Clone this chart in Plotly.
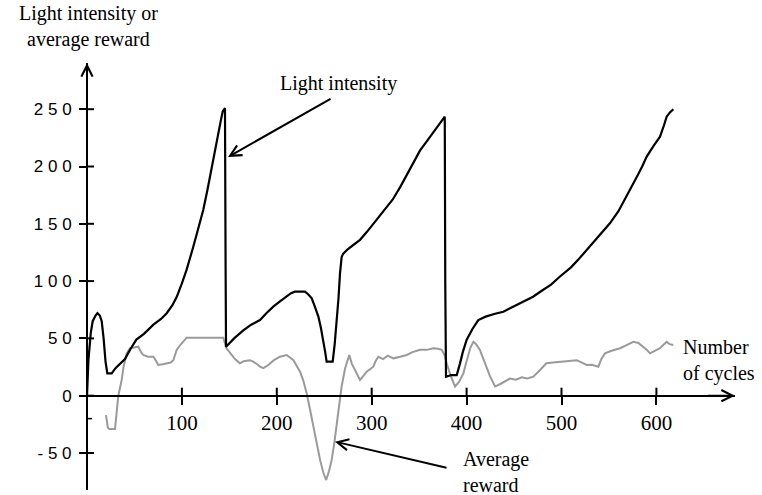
import plotly.graph_objects as go

# ---------------- data ----------------
light_x = [0, 1.5, 4, 6, 9, 11, 13.5, 15.5, 17.5, 19.5, 21.4, 26, 30, 34.8, 40, 46, 52, 60, 70, 78, 84,
           90, 94.5, 100, 105, 112, 117, 122.5, 127, 131.4, 135, 138.4, 141, 143, 145.4, 146, 146.5,
           155, 164.7, 173, 182.3, 189, 196.3, 203, 210.4, 215, 219, 229.7, 233, 236.8, 240, 243.8,
           246.5, 249, 251, 252.5, 258.9, 261, 263, 265, 266.6, 268.3, 270, 275, 280.6, 287.7, 295,
           305, 315, 322, 330, 340, 351, 358, 365, 371, 377, 377.5, 378.3, 384, 389.6, 393, 396, 400,
           406, 412.3, 420, 430, 438.7, 450, 460, 470, 480, 489, 498.4, 510, 518, 526.6, 535, 543,
           551, 560, 566, 572, 580, 585, 589.8, 597, 603.8, 608, 610.8, 614, 617.8]
light_y = [0, 31, 55, 65, 70, 72, 70, 65, 50, 30, 19.5, 19.5, 24, 28, 32, 41, 49, 54, 62, 67, 72,
           79, 86, 98, 110, 130, 146, 162, 180, 200, 215, 229, 240, 248, 251, 120, 42.8,
           50, 57, 62, 66, 72, 77.7, 82, 86.4, 89.5, 90.8, 90.8, 88.5, 85, 78, 69,
           59, 48.6, 38, 29.7, 29.7, 45, 63, 85, 106.8, 121, 124, 128, 131.5, 136, 143,
           153, 163, 171, 182, 197, 214, 222, 230, 237, 243.5, 100, 16.6, 18, 18, 28, 38, 48.6,
           58, 66, 69, 71.5, 73.3, 78, 82, 86.4, 92, 97, 104, 112, 119, 127, 135, 142,
           150.4, 161, 170, 179.5, 192, 200, 208.6, 218, 226, 236, 243.5, 247, 250]

reward_x = [20, 22, 23.5, 29.5, 33, 36.6, 38.5, 41.8, 45.3, 50, 54, 57, 59.3, 64, 70, 73, 75, 80, 84,
            88, 91, 94.5, 98, 101.5, 105, 143.6, 147, 152, 156, 161, 165, 171.7, 175.2, 180, 182.3,
            185.8, 191, 197, 203.4, 210.4, 214, 217.5, 221, 224.5, 228, 231.5, 235, 238.6, 242,
            245.6, 249, 252, 255, 257.8, 260.5, 263, 265.5, 268.3, 272, 276.4, 279, 282.3, 285,
            287.7, 291, 294.7, 301.7, 304, 307, 312, 317, 322.8, 330, 336.9, 343, 351, 358, 365,
            370, 373.8, 377, 379, 383, 387.8, 392, 396.6, 400, 404, 407.2, 410, 414, 418, 421,
            424.6, 430, 435, 440, 445.7, 452, 458, 464, 470.3, 477, 484, 491, 498.4, 507, 516, 521,
            526.6, 532, 538.8, 542, 545.8, 552, 561.7, 568, 575.7, 581, 586.2, 590, 593.2, 598,
            603.8, 607, 610.8, 614, 617.8]
reward_y = [-17, -28, -29, -29, 0, 14, 25, 37, 41.4, 42, 42.8, 38, 35.5, 34, 34, 30, 26.8, 27.5, 28.3,
            29, 31, 40, 44, 47, 50.6, 50.6, 41.4, 36, 32, 28.3, 30, 31, 29.7, 27, 25.3,
            24, 26.8, 31, 34, 35.5, 33, 31, 26, 21, 13, 2, -12, -27, -42,
            -56, -67, -73.6, -66, -56, -42, -27, -10, 8, 24, 35.5, 28, 22.4, 17,
            13.7, 17, 21, 25.3, 30, 34, 32, 35, 32.6, 34, 35.5, 38, 40, 40, 41.4,
            41, 40, 35, 28.3, 18, 8, 12, 19.5, 30, 42, 47, 45, 40, 32, 25,
            17, 8, 10, 12, 15, 14, 16, 15, 16.6, 22, 28.3, 29, 29.7, 30, 31, 29,
            26.8, 27, 25.3, 32, 37, 39, 41.4, 44, 47, 46, 42.8, 40, 37, 39,
            41.4, 44, 47, 45, 44.2]

x_ticks = [100, 200, 300, 400, 500, 600]
x_tick_labels = ["100", "200", "300", "400", "500", "600"]
y_ticks = [-50, 0, 50, 100, 150, 200, 250]
y_tick_labels = ["- 5 0", "0", "5 0", "1 0 0", "1 5 0", "2 0 0", "2 5 0"]

# ---------------- layout geometry ----------------
W, H = 762, 495
X0, XS = 87.0, 0.949      # pixel of x=0, pixels per unit
Y0, YS = 395.7, 1.146     # pixel of y=0, pixels per unit
x_left_px, x_right_px = 80, 735
y_bot_px, y_top_px = 490, 63

x_dom = [x_left_px / W, x_right_px / W]
x_rng = [(x_left_px - X0) / XS, (x_right_px - X0) / XS]
y_dom = [(H - y_bot_px) / H, (H - y_top_px) / H]
y_rng = [(Y0 - y_bot_px) / YS, (Y0 - y_top_px) / YS]
xaxis_pos = (H - Y0) / H
yaxis_pos = X0 / W

serif = "Liberation Serif, Times New Roman, serif"
sans = "Liberation Sans, Arial, sans-serif"

fig = go.Figure()
fig.add_trace(go.Scatter(x=reward_x, y=reward_y, mode="lines",
                         line=dict(color="#9a9a9a", width=2), hoverinfo="skip"))
fig.add_trace(go.Scatter(x=light_x, y=light_y, mode="lines",
                         line=dict(color="black", width=2.2), hoverinfo="skip"))

fig.update_layout(
    width=W, height=H, margin=dict(l=0, r=0, t=0, b=0), showlegend=False,
    plot_bgcolor="white", paper_bgcolor="white",
    xaxis=dict(domain=x_dom, range=x_rng, anchor="free", position=xaxis_pos, showgrid=False,
               zeroline=False, tickvals=x_ticks, ticktext=x_tick_labels, ticks="outside",
               ticklen=8, tickwidth=2, tickcolor="black", showline=True, linecolor="black",
               linewidth=2, fixedrange=True,
               tickfont=dict(family=serif, size=21, color="black")),
    yaxis=dict(domain=y_dom, range=y_rng, anchor="free", position=yaxis_pos, showgrid=False,
               zeroline=False, tickvals=y_ticks, ticktext=y_tick_labels, ticks="outside",
               ticklen=7, tickwidth=2, tickcolor="black", showline=True, linecolor="black",
               linewidth=2, fixedrange=True, ticklabelstandoff=4,
               tickfont=dict(family=sans, size=17, color="black")),
)

# inner halves of the crossing tick marks (placed by the axes' own scales)
for t in x_ticks:
    fig.add_shape(type="line", xref="x", yref="y", x0=t, x1=t, ysizemode="pixel", yanchor=0,
                  y0=0, y1=8, line=dict(color="black", width=2))
for t in y_ticks:
    fig.add_shape(type="line", xref="x", yref="y", y0=t, y1=t, xsizemode="pixel", xanchor=0,
                  x0=0, x1=7, line=dict(color="black", width=2))
# small stray tick on the right of the y axis
fig.add_shape(type="line", xref="x", yref="y", y0=-20, y1=-20, xsizemode="pixel", xanchor=0,
              x0=0, x1=5, line=dict(color="black", width=1.5))

arrow = dict(showarrow=True, arrowhead=5, arrowwidth=2, arrowsize=1.1, arrowcolor="black",
             xref="x", yref="y", axref="x", ayref="y", text="", standoff=0)
# axis arrows
fig.add_annotation(**arrow, x=x_rng[1], y=0, ax=x_rng[1] - 30, ay=0)
fig.add_annotation(**arrow, x=0, y=y_rng[1], ax=0, ay=y_rng[1] - 25)
# pointer arrows
fig.add_annotation(**arrow, x=148.6, y=208.3, ax=258.2, ay=259.8)
fig.add_annotation(**arrow, x=261.3, y=-40.1, ax=380.4, ay=-63.1)

txt = dict(showarrow=False, xref="paper", yref="paper", font=dict(family=serif, size=20, color="black"))
fig.add_annotation(**txt, text="Light intensity or<br>average reward", x=88.5 / W, y=1 - 26.5 / H,
                   xanchor="center", yanchor="middle", align="center")
fig.add_annotation(**txt, text="Light intensity", x=338.5 / W, y=1 - 84 / H, xanchor="center", yanchor="middle")
fig.add_annotation(**txt, text="Average<br>reward", x=461 / W, y=1 - 471.5 / H,
                   xanchor="left", yanchor="middle", align="left")
fig.add_annotation(**txt, text="Number<br>of cycles", x=681 / W, y=1 - 360.5 / H,
                   xanchor="left", yanchor="middle", align="left")

fig.write_html("out.html")
